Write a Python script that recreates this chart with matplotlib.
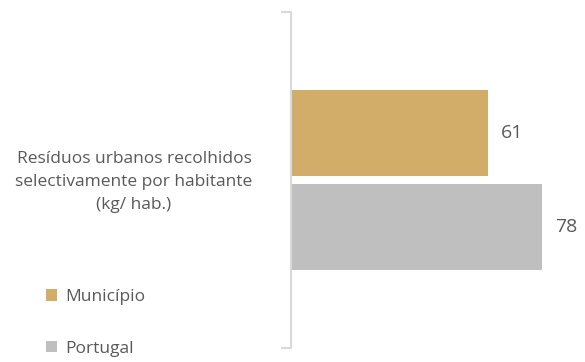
import matplotlib
matplotlib.use('Agg')
import matplotlib.pyplot as plt

plt.rcParams['font.family'] = ['Open Sans', 'DejaVu Sans']

# Data
category = 'Resíduos urbanos recolhidos\nselectivamente por habitante\n(kg/ hab.)'
series   = ['Município', 'Portugal']
values   = [61, 78]
colors   = ['#D2AD6A', '#BFBFBF']
offsets  = [0.14, -0.141]

TXT = '#595959'
AXC = '#D9D9D9'

fig = plt.figure(figsize=(5.85, 3.62), dpi=100)
ax = fig.add_axes([291/585, 1 - 348/362, 290/585, 336/362])

bars = []
for name, val, col, off in zip(series, values, colors, offsets):
    b = ax.barh(off, val, height=0.256, color=col, label=name)
    bars.append(b)
    ax.text(val + 4.0, off, f'{val}', va='center', ha='left', fontsize=14, color=TXT)

ax.set_xlim(0, 90)
ax.set_ylim(-0.5, 0.5)

for s in ['top', 'right', 'bottom']:
    ax.spines[s].set_visible(False)
ax.spines['left'].set_color(AXC)
ax.spines['left'].set_linewidth(1.5)
ax.set_xticks([])
ax.set_yticks([-0.5, 0.5])
ax.set_yticklabels([])
ax.tick_params(axis='y', length=7, width=1.5, color=AXC)

# category label to the left of the axis
fig.text(134/585, 1 - 182/362, category, ha='center', va='center',
         fontsize=12.5, color=TXT, linespacing=1.6, multialignment='center')

fig.legend(handles=bars, labels=series, loc='center left',
           bbox_to_anchor=(46/585, 1 - 323/362), frameon=False,
           borderpad=0, borderaxespad=0,
           fontsize=12.5, labelcolor=TXT, handlelength=0.63, handleheight=0.63,
           handletextpad=0.5, labelspacing=2.05)

fig.savefig('out.png', dpi=100, facecolor='white')
